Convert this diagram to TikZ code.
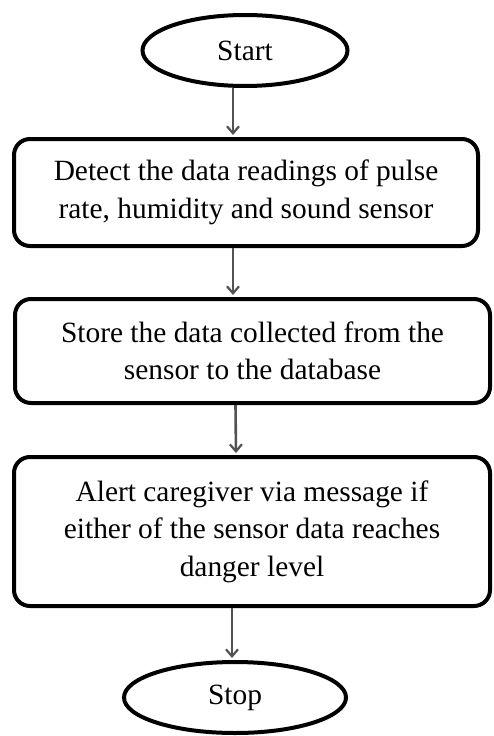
\documentclass[tikz,border=0pt]{standalone}
\usepackage{fontspec}
\setmainfont{Liberation Serif}
\usetikzlibrary{shapes.geometric,arrows.meta}
\begin{document}
\begin{tikzpicture}[x=1pt,y=1pt,
  term/.style={ellipse,draw=black,line width=4pt,inner sep=0pt,font=\fontsize{29.4}{37}\selectfont},
  proc/.style={rectangle,rounded corners=16pt,draw=black,line width=4pt,inner sep=0pt,align=center,font=\fontsize{29.4}{37.5}\selectfont},
  arr/.style={draw=black!68,line width=2.6pt,-{Straight Barb[length=7pt,width=12pt,line width=2.2pt]}}]
\useasboundingbox (0,0) rectangle (493,-736);
\node[term,minimum width=205pt,minimum height=71pt] (start) at (245,-50.5) {Start};
\node[proc,minimum width=464pt,minimum height=107pt] (b1) at (246,-192.5) {Detect the data readings of pulse\\rate, humidity and sound sensor};
\node[proc,minimum width=475pt,minimum height=104pt] (b2) at (252.5,-351) {Store the data collected from the\\sensor to the database};
\node[proc,minimum width=476pt,minimum height=149pt] (b3) at (252,-531.5) {Alert caregiver via message if\\either of the sensor data reaches\\danger level};
\node[term,minimum width=222pt,minimum height=71pt] (stop) at (235,-697.5) {Stop};
\draw[arr] ([xshift=-12pt]start.south) -- ([xshift=-13pt,yshift=2pt]b1.north);
\draw[arr] ([xshift=-13pt]b1.south) -- ([xshift=-19.5pt,yshift=2pt]b2.north);
\draw[arr] ([xshift=-17pt]b2.south) -- ([xshift=-16pt,yshift=2pt]b3.north);
\draw[arr] ([xshift=-20pt]b3.south) -- ([xshift=-3pt,yshift=2pt]stop.north);
\end{tikzpicture}
\end{document}
